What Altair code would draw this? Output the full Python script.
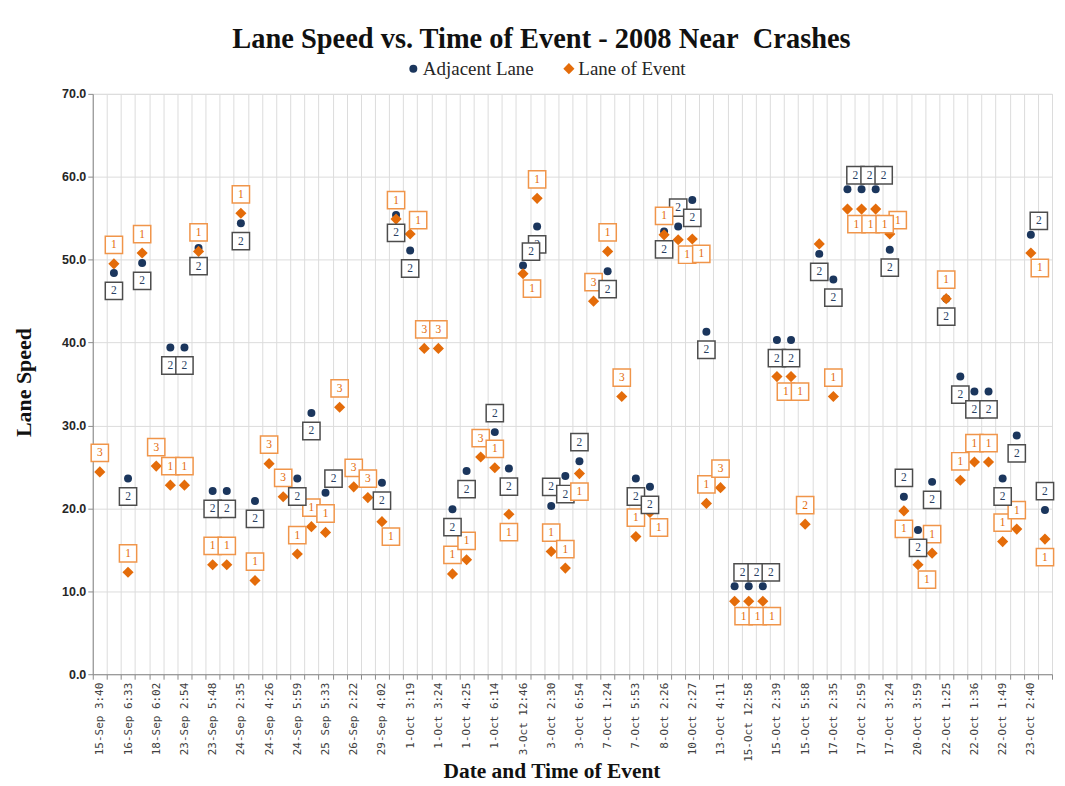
import json
import altair as alt
import pandas as pd

# ---------------- data ----------------
tick_labels = [
    "15-Sep 3:40", "16-Sep 6:33", "18-Sep 6:02", "23-Sep 2:54", "23-Sep 5:48",
    "24-Sep 2:35", "24-Sep 4:26", "24-Sep 5:59", "25 Sep 5:33", "26-Sep 2:22",
    "29-Sep 4:02", "1-Oct 3:19", "1-Oct 3:24", "1-Oct 4:25", "1-Oct 6:14",
    "3-Oct 12:46", "3-Oct 2:30", "3-Oct 6:54", "7-Oct 1:24", "7-Oct 5:53",
    "8-Oct 2:26", "10-Oct 2:27", "13-Oct 4:11", "15-Oct 12:58", "15-Oct 2:39",
    "15-Oct 5:58", "17-Oct 2:35", "17-Oct 2:59", "17-Oct 3:24", "20-Oct 3:59",
    "22-Oct 1:25", "22-Oct 1:36", "22-Oct 1:49", "23-Oct 2:40",
]

adjacent_speed = [
    None, 48.4, 23.6, 49.6, None, 39.4, 39.4, 51.4, 22.1, 22.1,
    54.4, 20.9, None, None, 23.6, 31.5, 21.9, None, None, None,
    23.1, 55.4, 51.1, None, None, 19.9, 24.5, None, 29.2, 24.8,
    49.3, 54.0, 20.3, 23.9, 25.7, None, 48.6, None, 23.6, 22.6,
    53.4, 54.0, 57.2, 41.3, None, 10.6, 10.6, 10.6, 40.3, 40.3,
    None, 50.7, 47.6, 58.5, 58.5, 58.5, 51.2, 21.4, 17.4, 23.2,
    45.3, 35.9, 34.1, 34.1, 23.6, 28.8, 53.0, 19.8,
]

event_speed = [
    24.4, 49.5, 12.3, 50.8, 25.1, 22.8, 22.8, 51.0, 13.2, 13.2,
    55.6, 11.3, 25.4, 21.4, 14.5, 17.8, 17.1, 32.2, 22.6, 21.3,
    18.4, 54.9, 53.1, 39.3, 39.3, 12.1, 13.8, 26.2, 24.9, 19.3,
    48.3, 57.4, 14.8, 12.8, 24.2, 45.0, 51.0, 33.5, 16.6, 19.5,
    53.0, 52.4, 52.5, 20.6, 22.5, 8.8, 8.8, 8.8, 35.9, 35.9,
    18.1, 51.9, 33.5, 56.1, 56.1, 56.1, 53.1, 19.7, 13.2, 14.6,
    45.3, 23.4, 25.6, 25.6, 16.0, 17.5, 50.8, 16.3,
]

adjacent_lane = [
    None, 2, 2, 2, None, 2, 2, 2, 2, 2,
    2, 2, None, None, 2, 2, 2, None, None, None,
    2, 2, 2, None, None, 2, 2, None, 2, 2,
    2, 2, 2, 2, 2, None, 2, None, 2, 2,
    2, 2, 2, 2, None, 2, 2, 2, 2, 2,
    None, 2, 2, 2, 2, 2, 2, 2, 2, 2,
    2, 2, 2, 2, 2, 2, 2, 2,
]

event_lane = [
    3, 1, 1, 1, 3, 1, 1, 1, 1, 1,
    1, 1, 3, 3, 1, 1, 1, 3, 3, 3,
    1, 1, 1, 3, 3, 1, 1, 3, 1, 1,
    1, 1, 1, 1, 1, 3, 1, 3, 1, 1,
    1, 1, 1, 1, 3, 1, 1, 1, 1, 1,
    2, None, 1, 1, 1, 1, 1, 1, 1, 1,
    1, 1, 1, 1, 1, 1, 1, 1,
]

# label placement codes (a=above, b=below, ar=above-right, br=below-right)
adjacent_label_place = [
    "", "b", "b", "b", "", "b", "b", "b", "b", "b",
    "b", "b", "", "", "b", "b", "ar", "", "", "",
    "b", "b", "b", "", "", "b", "b", "", "a", "b",
    "ar", "b", "a", "b", "a", "", "b", "", "b", "b",
    "b", "a", "b", "b", "", "ar", "ar", "ar", "b", "b",
    "", "b", "b", "ar", "ar", "ar", "b", "a", "b", "b",
    "b", "b", "b", "b", "b", "b", "ar", "a",
]
event_label_place = [
    "a", "a", "a", "a", "a", "a", "a", "a", "a", "a",
    "a", "a", "a", "a", "a", "a", "a", "a", "a", "a",
    "br", "a", "ar", "a", "a", "a", "a", "a", "a", "b",
    "br", "a", "a", "a", "b", "a", "a", "a", "a", "br",
    "a", "br", "br", "a", "a", "br", "br", "br", "br", "br",
    "a", "", "a", "br", "br", "br", "ar", "b", "br", "a",
    "a", "a", "a", "a", "a", "a", "br", "b",
]

SERIES = ["Adjacent Lane", "Lane of Event"]
POINT_COLORS = ["#1B365D", "#E46C0A"]
BOX_STROKE = {"Adjacent Lane": "#4D4D4D", "Lane of Event": "#F0954A"}
TEXT_COLOR = {"Adjacent Lane": "#2A3F63", "Lane of Event": "#E46C0A"}

rows = []
for i, v in enumerate(adjacent_speed):
    if v is not None:
        rows.append(dict(idx=i, series=SERIES[0], speed=v,
                         lane="" if adjacent_lane[i] is None else str(adjacent_lane[i]),
                         place=adjacent_label_place[i]))
for i, v in enumerate(event_speed):
    if v is not None:
        rows.append(dict(idx=i, series=SERIES[1], speed=v,
                         lane="" if event_lane[i] is None else str(event_lane[i]),
                         place=event_label_place[i]))
df = pd.DataFrame(rows)
df["boxstroke"] = df["series"].map(BOX_STROKE)
df["textcolor"] = df["series"].map(TEXT_COLOR)

N = len(adjacent_speed)  # 68 categories
W, H = 962, 582
cat_px = W / N

label_js = "[" + ",".join(json.dumps(t) for t in tick_labels) + "]"
label_expr = f"(datum.value % 2 == 0 && datum.value < {N}) ? {label_js}[datum.value / 2] : ''"

x_enc = alt.X(
    "xpos:Q",
    scale=alt.Scale(domain=[0, N], nice=False, zero=False),
    axis=alt.Axis(
        values=list(range(N + 1)),
        labelExpr=label_expr,
        labelAngle=-90,
        labelOffset=cat_px / 2,
        labelFont="DejaVu Sans Mono",
        labelFontSize=11,
        labelColor="#404040",
        labelOverlap=False,
        labelFlush=False,
        labelPadding=3,
        tickSize=5,
        tickColor="#8C8C8C",
        domainColor="#8C8C8C",
        grid=True,
        gridColor="#DCDCDC",
        title="Date and Time of Event",
        titleFont="Liberation Serif",
        titleFontSize=21.5,
        titleFontWeight="bold",
        titleColor="#111111",
        titleX=460,
        titleY=104,
        titleAlign="center",
        titleBaseline="alphabetic",
    ),
)
y_enc = alt.Y(
    "speed:Q",
    scale=alt.Scale(domain=[0, 70], nice=False, zero=True),
    axis=alt.Axis(
        values=list(range(0, 71, 10)),
        format=".1f",
        labelFont="Liberation Sans",
        labelFontWeight="bold",
        labelFontSize=12.5,
        labelColor="#262626",
        tickSize=5,
        tickColor="#8C8C8C",
        domainColor="#8C8C8C",
        grid=True,
        gridColor="#DCDCDC",
        title="Lane Speed",
        titleFont="Liberation Serif",
        titleFontSize=22,
        titleFontWeight="bold",
        titleColor="#111111",
        titleAngle=-90,
        titleX=-57,
        titleY=H / 2 - 2,
        titleAlign="center",
        titleBaseline="bottom",
    ),
)

legend = alt.Legend(
    title=None,
    orient="none",
    legendX=312,
    legendY=-35,
    direction="horizontal",
    labelFont="Liberation Serif",
    labelFontSize=19,
    labelColor="#262626",
    symbolSize=40,
    columnPadding=25,
    labelOffset=0,
)

base = alt.Chart(df).transform_calculate(xpos="datum.idx + 0.5")

points = base.mark_point(filled=True, opacity=1).encode(
    x=x_enc,
    y=y_enc,
    color=alt.Color("series:N", scale=alt.Scale(domain=SERIES, range=POINT_COLORS), legend=legend),
    shape=alt.Shape("series:N", scale=alt.Scale(domain=SERIES, range=["circle", "diamond"]), legend=legend),
    size=alt.Size("series:N", scale=alt.Scale(domain=SERIES, range=[64, 125]), legend=None),
)

offsets = {"a": (0, -19), "b": (0, 18), "ar": (8, -14), "br": (9, 15)}
layers = [points]
for code, (dx, dy) in offsets.items():
    sub = base.transform_filter(f"datum.place == '{code}' && datum.lane != ''")
    box = sub.mark_point(
        shape="square", size=300, fill="white", fillOpacity=1, strokeWidth=1.5,
        opacity=1, xOffset=dx, yOffset=dy,
    ).encode(x=x_enc, y=y_enc, stroke=alt.Stroke("boxstroke:N", scale=None))
    txt = sub.mark_text(
        font="Liberation Serif", fontSize=11.5, align="center", baseline="middle",
        xOffset=dx, yOffset=dy + 0.5,
    ).encode(x=x_enc, y=y_enc, text="lane:N", color=alt.Color("textcolor:N", scale=None))
    layers += [box, txt]

chart = alt.layer(*layers).properties(
    width=W,
    height=H,
    title=alt.TitleParams(
        "Lane Speed vs. Time of Event - 2008 Near\u00a0 Crashes",
        font="Liberation Serif",
        fontSize=28.5,
        fontWeight="bold",
        color="#111111",
        anchor="middle",
        offset=5,
        dx=-31,
    ),
    autosize=alt.AutoSizeParams(type="none"),
    padding={"left": 85, "top": 85, "right": 5, "bottom": 111},
).configure_view(strokeWidth=0).configure(background="white")

chart.save("out.html", embed_options={"renderer": "svg", "actions": False})
